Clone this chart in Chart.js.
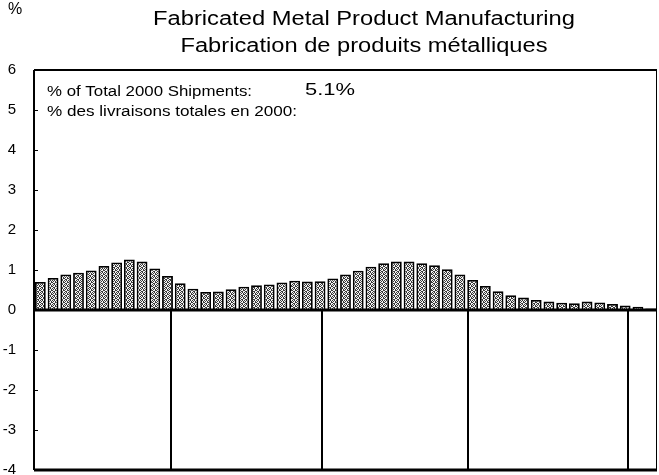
<!DOCTYPE html>
<html>
<head>
<meta charset="utf-8">
<script src="https://cdn.jsdelivr.net/npm/chart.js@4/dist/chart.umd.min.js"></script>
<style>
  html, body { margin: 0; padding: 0; background: #fff; }
  #wrap { position: relative; width: 659px; height: 475px; }
</style>
</head>
<body>
<div id="wrap"><canvas id="chart"></canvas></div>
<script>
// chart data
var shares = [0.70, 0.80, 0.89, 0.93, 0.99, 1.10, 1.19, 1.26, 1.21, 1.04,
              0.85, 0.67, 0.53, 0.45, 0.46, 0.52, 0.58, 0.62, 0.64, 0.69,
              0.73, 0.71, 0.72, 0.79, 0.89, 0.98, 1.08, 1.17, 1.21, 1.21,
              1.17, 1.12, 1.02, 0.89, 0.75, 0.60, 0.47, 0.37, 0.31, 0.25,
              0.21, 0.18, 0.17, 0.21, 0.19, 0.15, 0.11, 0.08, 0.04];
var categories = shares.map(function (v, i) { return String(i + 1); });
var yTicks = [-4, -3, -2, -1, 0, 1, 2, 3, 4, 5, 6];
// group dividers, in category units
var dividers = [10.25, 22.15, 33.65, 46.2];

var titleLines = ['Fabricated Metal Product Manufacturing', 'Fabrication de produits métalliques'];
var noteEn = '% of Total 2000 Shipments:';
var noteFr = '% des livraisons totales en 2000:';
var noteValue = '5.1%';

var FONT = '"Liberation Sans", Arial, Helvetica, sans-serif';

// dithered grey fill like the printed original
function makePattern() {
    var c = document.createElement('canvas');
    c.width = 4;
    c.height = 4;
    var g = c.getContext('2d');
    g.fillStyle = '#f4f4f4';
    g.fillRect(0, 0, 4, 4);
    g.fillStyle = '#3a3a3a';
    var dots = [[0, 0], [2, 0], [1, 1], [3, 2], [0, 2], [2, 3], [1, 3], [3, 1]];
    dots.forEach(function (d) { g.fillRect(d[0], d[1], 1, 1); });
    return g.createPattern(c, 'repeat');
}

// draw text stretched to a given width (the scan is wider than the fonts we have)
function stretchText(ctx, text, x, y, width, align) {
    var w = ctx.measureText(text).width;
    var sx = width / w;
    ctx.save();
    ctx.textAlign = 'left';
    var left = align === 'center' ? x - width / 2 : x;
    ctx.translate(left, y);
    ctx.scale(sx, 1);
    ctx.fillText(text, 0, 0);
    ctx.restore();
}

var extras = {
    id: 'extras',
    afterDatasetsDraw: function (chart) {
        var ctx = chart.ctx;
        var a = chart.chartArea;
        var x = chart.scales.x;
        var y = chart.scales.y;
        var y0 = y.getPixelForValue(0);
        var yMin = y.getPixelForValue(-4);
        ctx.save();

        // dividers below zero
        ctx.strokeStyle = '#000';
        ctx.lineWidth = 2;
        dividers.forEach(function (d) {
            var px = Math.round(x.getPixelForValue(d));
            ctx.beginPath();
            ctx.moveTo(px, y0);
            ctx.lineTo(px, yMin);
            ctx.stroke();
        });

        // zero line
        ctx.lineWidth = 3;
        ctx.beginPath();
        ctx.moveTo(a.left, y0);
        ctx.lineTo(a.right, y0);
        ctx.stroke();

        // frame
        ctx.lineWidth = 2;
        ctx.beginPath();
        ctx.moveTo(a.left, a.top);
        ctx.lineTo(a.right, a.top);
        ctx.moveTo(a.left, a.top);
        ctx.lineTo(a.left, a.bottom);
        ctx.stroke();
        ctx.lineWidth = 3;
        ctx.beginPath();
        ctx.moveTo(a.left, a.bottom);
        ctx.lineTo(a.right, a.bottom);
        ctx.stroke();
        ctx.lineWidth = 1;
        ctx.beginPath();
        ctx.moveTo(a.right - 0.5, a.top);
        ctx.lineTo(a.right - 0.5, a.bottom);
        ctx.stroke();

        // inward tick marks
        yTicks.forEach(function (t) {
            var py = Math.round(y.getPixelForValue(t)) + 0.5;
            ctx.beginPath();
            ctx.moveTo(a.left, py);
            ctx.lineTo(a.left + 4, py);
            ctx.stroke();
        });

        // titles
        ctx.fillStyle = '#000';
        ctx.textBaseline = 'middle';
        ctx.font = '20px ' + FONT;
        stretchText(ctx, titleLines[0], 364, 19, 422, 'center');
        stretchText(ctx, titleLines[1], 364, 46, 367, 'center');

        ctx.textAlign = 'left';
        ctx.font = '16px ' + FONT;
        ctx.fillText('%', 8, 10);

        // note inside the plot
        ctx.font = '14px ' + FONT;
        stretchText(ctx, noteEn, 47, 92, 205, 'left');
        stretchText(ctx, noteFr, 47, 112, 250, 'left');
        ctx.font = '17px ' + FONT;
        stretchText(ctx, noteValue, 305, 90, 50, 'left');
        ctx.restore();
    }
};

var chart = new Chart(document.getElementById('chart'), {
    type: 'bar',
    data: {
        labels: categories,
        datasets: [{
            data: shares,
            backgroundColor: makePattern(),
            borderColor: '#000',
            borderWidth: 1.8,
            borderSkipped: 'bottom',
            barPercentage: 1,
            categoryPercentage: 0.85
        }]
    },
    options: {
        responsive: true,
        maintainAspectRatio: false,
        animation: false,
        layout: { padding: { top: 70, right: 2, bottom: 5, left: 0 } },
        plugins: {
            legend: { display: false },
            title: { display: false },
            tooltip: { enabled: false }
        },
        scales: {
            x: {
                display: false,
                offset: true,
                grid: { display: false }
            },
            y: {
                min: -4,
                max: 6,
                afterFit: function (scale) {
                    scale.width = 34;
                    // label overhang must not shrink the plot
                    scale.paddingTop = 0;
                    scale.paddingBottom = 0;
                },
                afterBuildTicks: function (scale) {
                    scale.ticks = yTicks.map(function (v) { return { value: v }; });
                },
                grid: { display: false, drawTicks: false },
                border: { display: false },
                ticks: {
                    color: '#000',
                    padding: 18,
                    font: { family: FONT, size: 15 }
                }
            }
        }
    },
    plugins: [extras]
});
</script>
</body>
</html>
